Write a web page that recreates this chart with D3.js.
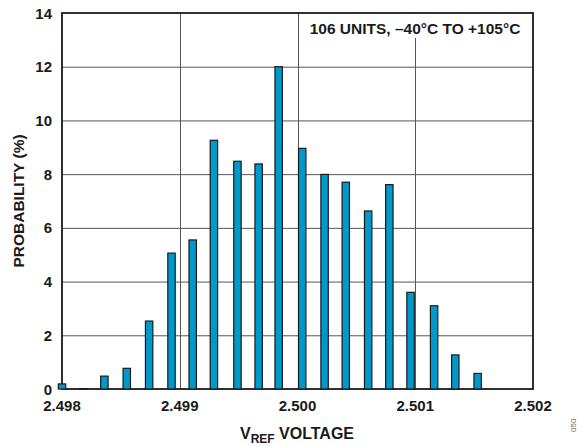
<!DOCTYPE html>
<meta charset="utf-8">
<style>
  body { margin: 0; background: #fff; }
  text { font-family: "Liberation Sans", Arial, sans-serif; font-weight: bold; fill: #1a1a1a; }
  .grid line { stroke: #555; stroke-width: 1; }
  .bars rect { fill: #0099cc; stroke: #1a1a1a; stroke-width: 1.2; }
</style>
<svg width="581" height="446"></svg>
<script src="https://d3js.org/d3.v7.min.js"></script>
<script>
  // bin centres (V) and probability (%)
  var binCenters = [2.49800, 2.49818, 2.49836, 2.49855, 2.49874, 2.49893, 2.49911, 2.49929, 2.49949, 2.49967,
                    2.49984, 2.50004, 2.50023, 2.50041, 2.50060, 2.50078, 2.50096, 2.50116, 2.50134, 2.50153];
  var probability = [0.19, 0, 0.48, 0.77, 2.53, 5.06, 5.55, 9.26, 8.48, 8.38,
                     12.0, 8.96, 7.99, 7.70, 6.63, 7.61, 3.60, 3.10, 1.27, 0.58];
  var xTicks = [2.498, 2.499, 2.500, 2.501, 2.502];
  var yTicks = [0, 2, 4, 6, 8, 10, 12, 14];

  var svg = d3.select("svg");
  var plotL = 62, plotR = 533, plotT = 13, plotB = 389;

  var x = d3.scaleLinear().domain([2.498, 2.502]).range([plotL, plotR]);
  var y = d3.scaleLinear().domain([0, 14]).range([plotB, plotT]);

  //grid
  var grid = svg.append("g").attr("class", "grid");
  grid.selectAll("line.h")
    .data(yTicks.slice(1, -1))
    .enter().append("line")
    .attr("x1", plotL).attr("x2", plotR)
    .attr("y1", d => y(d) + 0.5).attr("y2", d => y(d) + 0.5);
  grid.selectAll("line.v")
    .data(xTicks.slice(1, -1))
    .enter().append("line")
    .attr("y1", plotT).attr("y2", plotB)
    .attr("x1", d => Math.round(x(d)) + 0.5).attr("x2", d => Math.round(x(d)) + 0.5);

  // white patch behind the note
  svg.append("rect")
    .attr("x", x(2.5) + 2).attr("y", plotT + 1)
    .attr("width", plotR - x(2.5) - 3).attr("height", 24)
    .attr("fill", "#fff");
  svg.append("text")
    .attr("x", 415).attr("y", 34)
    .attr("text-anchor", "middle")
    .style("font-size", "15.5px")
    .text("106 UNITS, \u201340\u00B0C TO +105\u00B0C");

  // frame
  svg.append("rect")
    .attr("x", plotL).attr("y", plotT)
    .attr("width", plotR - plotL).attr("height", plotB - plotT)
    .attr("fill", "none").attr("stroke", "#1a1a1a").attr("stroke-width", 1.8);

  //bars (on top of the frame, the first one hangs over the y axis)
  var bw = 7.4;
  svg.append("g").attr("class", "bars")
    .selectAll("rect")
    .data(binCenters)
    .enter().append("rect")
    .attr("x", (d, i) => x(d) - bw / 2)
    .attr("y", (d, i) => Math.min(y(probability[i]), plotB - 0.4))
    .attr("width", bw)
    .attr("height", (d, i) => Math.max(plotB - y(probability[i]), 0.4));

  //tick labels
  svg.append("g").selectAll("text")
    .data(yTicks)
    .enter().append("text")
    .attr("x", 52).attr("y", d => y(d) + 5.5)
    .attr("text-anchor", "end")
    .style("font-size", "15px")
    .text(d => d);
  svg.append("g").selectAll("text")
    .data(xTicks)
    .enter().append("text")
    .attr("x", d => x(d)).attr("y", 411)
    .attr("text-anchor", "middle")
    .style("font-size", "15px")
    .text(d => d3.format(".3f")(d));

  //axis titles
  svg.append("text")
    .attr("transform", "translate(24," + ((plotT + plotB) / 2) + ") rotate(-90)")
    .attr("text-anchor", "middle")
    .style("font-size", "15.5px")
    .text("PROBABILITY (%)");

  var xt = svg.append("text")
    .attr("x", 297).attr("y", 439)
    .attr("text-anchor", "middle")
    .style("font-size", "16px");
  xt.append("tspan").text("V");
  xt.append("tspan").attr("dy", 4).style("font-size", "12px").text("REF");
  xt.append("tspan").attr("dy", -4).text(" VOLTAGE");

  svg.append("text")
    .attr("transform", "translate(576,432) rotate(-90)")
    .style("font-size", "8px").style("font-weight", "normal").style("fill", "#666")
    .text("050");
</script>
